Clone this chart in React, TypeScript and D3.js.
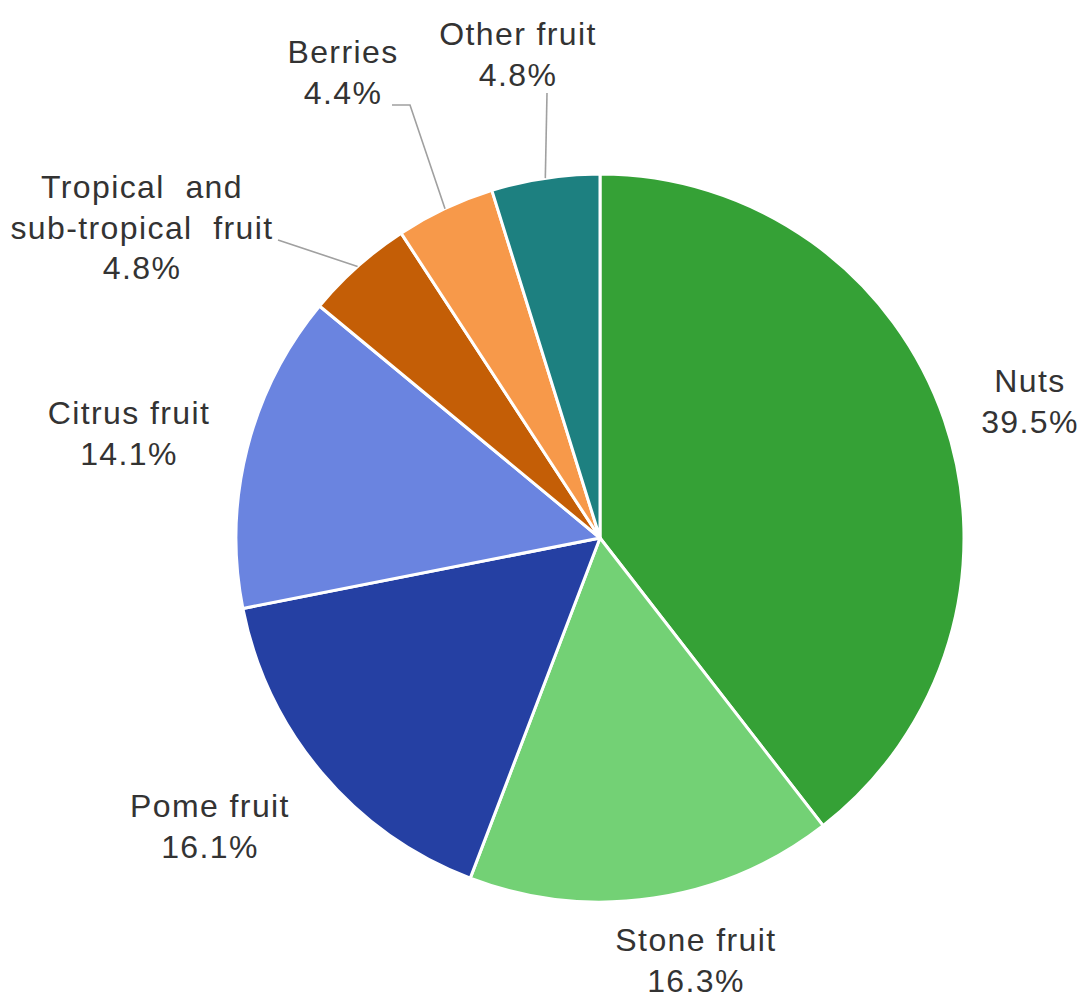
import React from "react";
import * as d3 from "d3";

const categories = ["Nuts", "Stone fruit", "Pome fruit", "Citrus fruit", "Tropical and sub-tropical fruit", "Berries", "Other fruit"];
const shares = [39.5, 16.3, 16.1, 14.1, 4.8, 4.4, 4.8];
const colors = ["#35a136", "#73d175", "#2540a3", "#6a84e0", "#c45e06", "#f7994a", "#1d8080"];
const labelLines = [
  ["Nuts", "39.5%"],
  ["Stone fruit", "16.3%"],
  ["Pome fruit", "16.1%"],
  ["Citrus fruit", "14.1%"],
  ["Tropical  and", "sub-tropical  fruit", "4.8%"],
  ["Berries", "4.4%"],
  ["Other fruit", "4.8%"],
];

const W = 1084;
const H = 1001;
const cx = 600;
const cy = 538;
const R = 364;

// label anchor: center x and first baseline y
const labelPos: [number, number][] = [
  [1030, 392],
  [696, 951],
  [210, 817],
  [129, 424],
  [142, 198],
  [343, 63],
  [518, 45],
];
const lineGap = 40.5;

export default function App() {
  const pie = d3.pie<number>().sort(null).value((d) => d)(shares);
  const arc = d3.arc<d3.PieArcDatum<number>>().innerRadius(0).outerRadius(R);
  const outer = (a: d3.PieArcDatum<number>): [number, number] => {
    const m = (a.startAngle + a.endAngle) / 2;
    return [cx + R * Math.sin(m), cy - R * Math.cos(m)];
  };
  const leaders: Record<number, [number, number][]> = {
    4: [[278, 240], outer(pie[4])],
    5: [[392, 105], [410, 105], outer(pie[5])],
    6: [[547, 93], outer(pie[6])],
  };
  const line = d3.line();
  return (
    <svg width={W} height={H} style={{ position: "absolute", left: 0, top: 0, background: "#fff" }}>
      <rect width={W} height={H} fill="#fff" />
      <g transform={`translate(${cx},${cy})`}>
        {pie.map((p, i) => (
          <path key={categories[i]} d={arc(p) || ""} fill={colors[i]} stroke="#fff" strokeWidth={3} strokeLinejoin="round" />
        ))}
      </g>
      {Object.entries(leaders).map(([k, pts]) => (
        <path key={k} d={line(pts) || ""} fill="none" stroke="#a0a0a0" strokeWidth={1.6} />
      ))}
      {labelLines.map((lines, i) => (
        <text
          key={categories[i]}
          textAnchor="middle"
          fontFamily="'Liberation Sans', Arial, sans-serif"
          fontSize={32}
          letterSpacing={1.4}
          fill="#333333"
          style={{ whiteSpace: "pre" }}
        >
          {lines.map((t, j) => (
            <tspan key={j} x={labelPos[i][0]} y={labelPos[i][1] + j * lineGap}>
              {t}
            </tspan>
          ))}
        </text>
      ))}
    </svg>
  );
}
